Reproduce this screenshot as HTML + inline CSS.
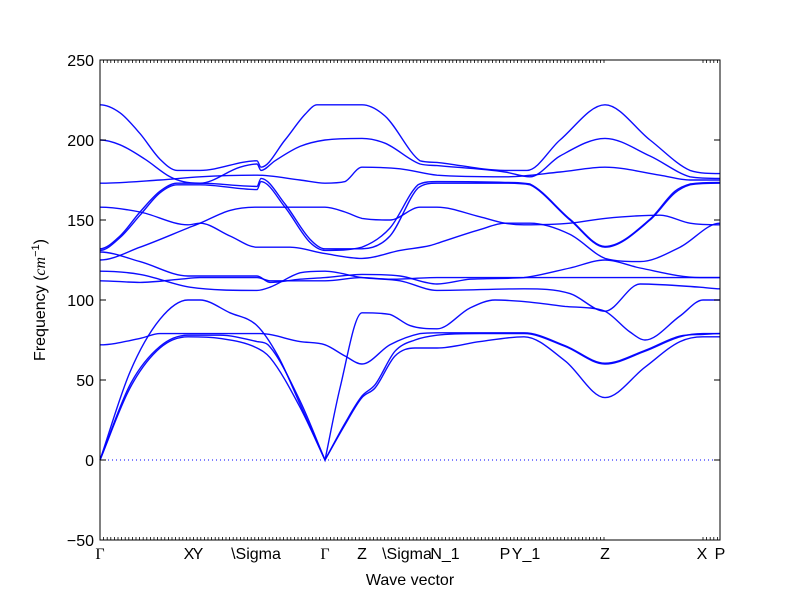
<!DOCTYPE html>
<html><head><meta charset="utf-8"><style>
body{margin:0;background:#fff}
svg{display:block;font-family:"Liberation Sans",sans-serif}
</style></head><body>
<svg id="chart" width="800" height="600" viewBox="0 0 800 600">
<rect x="0" y="0" width="800" height="600" fill="#fff"/>
<g id="bands"></g>
<g id="axes"></g>
</svg>
<script>
const yTicks=[-50,0,50,100,150,200,250];
const kLabels=["Γ","X","Y","\\Sigma","Γ","Z","\\Sigma","N_1","P","Y_1","Z","X","P"];
const kLabelPos=[0,89,98,156,225,262,307,345,405,426,505,602,620];
const kMax=620;
const band1=[[0,0],[30,45],[60,70],[88,77],[120,76],[157,70],[170,64],[200,33],[225,0],[245,22],[262,39],[275,45],[295,65],[315,70],[337,70],[380,74],[424,77],[465,62],[505,39],[545,58],[580,74],[603,77],[620,77]];
const band2=[[0,0],[30,47],[60,71],[88,78],[120,78],[157,74],[168,72],[200,37],[225,0],[245,23],[262,40],[275,47],[295,68],[315,75],[337,78],[380,79],[424,79],[465,71],[505,60],[545,68],[580,77],[603,79],[620,79]];
const band3=[[0,0],[30,55],[60,88],[88,100],[100,100],[130,92],[157,84],[178,65],[200,35],[225,0],[240,45],[262,92],[290,91],[310,84],[337,82],[370,95],[395,100],[424,99],[465,96],[505,93],[530,80],[545,75],[580,90],[603,100],[620,100]];
const band4=[[0,72],[40,76],[60,79],[100,79],[160,79],[200,74],[225,72],[245,65],[262,60],[290,72],[320,79],[337,79.5],[424,79.5],[465,71.5],[505,60.5],[545,68.5],[580,77.5],[603,78.5],[620,79]];
const band5=[[0,112],[40,111],[80,113],[100,114],[157,114],[170,112],[225,112],[262,114],[290,113],[337,114],[424,114],[505,114],[560,114],[620,114]];
const band6=[[0,118],[40,116],[90,108],[157,106],[170,108],[200,117],[225,118],[262,114],[300,112],[337,106],[424,107],[470,104],[505,93],[540,110],[600,108],[620,107]];
const band7=[[0,130],[40,124],[88,115],[157,115],[170,111],[200,113],[225,114],[262,116],[300,115],[337,110],[370,113],[424,114],[470,120],[505,125],[540,120],[600,114],[620,114]];
const band8=[[0,125],[40,133],[88,145],[100,148],[130,156],[157,158],[225,158],[245,155],[262,151],[290,150],[320,158],[337,158],[380,152],[405,148],[424,147],[470,148],[505,151],[560,153],[590,148],[620,147]];
const band9=[[0,158],[40,155],[88,147],[100,148],[130,140],[157,133],[190,133],[225,129],[262,126],[300,131],[330,134],[340,136],[380,144],[405,148],[430,148],[470,141],[505,126],[540,124],[580,133],[620,148]];
const band10=[[0,132],[20,140],[40,155],[60,168],[77,173],[100,173],[157,171],[161,176],[185,160],[210,138],[225,132],[262,132],[290,140],[318,170],[337,173],[405,173],[430,172],[470,150],[505,133],[550,150],[575,167],[590,172],[620,173]];
const band11=[[0,131],[20,139],[40,153],[60,167],[77,172],[100,172],[157,169],[161,174],[185,158],[210,136],[225,131],[262,133],[290,145],[318,172],[337,174],[405,173.5],[430,172.5],[470,150.5],[505,133.5],[550,150.5],[575,168],[590,172.5],[620,173.5]];
const band12=[[0,173],[60,175],[100,177],[157,178],[200,175],[225,173],[245,174],[262,183],[300,182],[337,178],[405,177],[460,180],[505,183],[560,178],[590,175],[620,175]];
const band13=[[0,200],[20,197],[45,188],[70,177],[83,174],[100,173],[140,183],[157,185],[161,181],[175,187],[200,196],[225,200],[262,201],[285,198],[320,185],[337,184],[405,180],[430,177],[460,190],[505,201],[550,190],[590,177],[620,176]];
const band14=[[0,222],[20,217],[40,204],[60,188],[77,181],[100,181],[157,187],[161,183],[185,200],[205,216],[217,222],[262,222],[285,215],[320,187],[337,186],[405,181],[427,181],[460,200],[505,222],[550,200],[590,181],[620,179]];
const bands=[band1,band2,band3,band4,band5,band6,band7,band8,band9,band10,band11,band12,band13,band14];

const L=100,R=720,T=60,B=540,yMin=-50,yMax=250;
const sx=k=>L+k/kMax*(R-L);
const sy=f=>B-(f-yMin)/(yMax-yMin)*(B-T);
const NS="http://www.w3.org/2000/svg";
function mk(tag,attrs,parent){const e=document.createElementNS(NS,tag);for(const a in attrs)e.setAttribute(a,attrs[a]);parent.appendChild(e);return e;}

function smoothPath(pts){
  const n=pts.length,xs=pts.map(p=>sx(p[0])),ys=pts.map(p=>sy(p[1]));
  const d=[];for(let i=0;i<n-1;i++)d.push((ys[i+1]-ys[i])/(xs[i+1]-xs[i]));
  const mL=new Array(n),mR=new Array(n);
  for(let i=0;i<n;i++){
    const zero=pts[i][1]===0;
    if(i===0){mR[i]=zero?d[0]:0;mL[i]=mR[i];continue;}
    if(i===n-1){mL[i]=zero?d[n-2]:0;mR[i]=mL[i];continue;}
    if(zero){mL[i]=d[i-1];mR[i]=d[i];continue;}
    const m=(d[i-1]*d[i]<=0)?0:(d[i-1]+d[i])/2;mL[i]=m;mR[i]=m;
  }
  for(let i=0;i<n-1;i++){if(d[i]===0)continue;const a=mR[i]/d[i],b=mL[i+1]/d[i],s=a*a+b*b;if(s>9){const t=3/Math.sqrt(s);mR[i]=t*a*d[i];mL[i+1]=t*b*d[i];}}
  let s="M"+xs[0].toFixed(2)+","+ys[0].toFixed(2);
  for(let i=0;i<n-1;i++){const h=(xs[i+1]-xs[i])/3;
    s+=" C"+(xs[i]+h).toFixed(2)+","+(ys[i]+mR[i]*h).toFixed(2)+" "+(xs[i+1]-h).toFixed(2)+","+(ys[i+1]-mL[i+1]*h).toFixed(2)+" "+xs[i+1].toFixed(2)+","+ys[i+1].toFixed(2);}
  return s;
}
const gb=document.getElementById('bands');
const zl=mk('line',{x1:L,x2:R,y1:sy(0),y2:sy(0),stroke:'#0000ff','stroke-width':1,'stroke-dasharray':'1,3'},gb);


bands.forEach((b,i)=>{
  const p=mk('path',{d:smoothPath(b),fill:'none',stroke:'#0000ff','stroke-width':1.4,'stroke-opacity':0.95},gb);
  
  
});
const ga=document.getElementById('axes');
const fr=mk('rect',{x:L,y:T,width:R-L,height:B-T,fill:'none',stroke:'#000','stroke-width':1},ga);


yTicks.forEach(v=>{
  const y=sy(v);
  mk('line',{x1:L,x2:L+6,y1:y,y2:y,stroke:'#000'},ga);
  mk('line',{x1:R-6,x2:R,y1:y,y2:y,stroke:'#000'},ga);
  const t=mk('text',{x:L-6,y:y+6,'text-anchor':'end','font-size':16},ga);
  t.textContent=(v<0?'\u2212'+Math.abs(v):v);
  
  
});
for(let x=L;x<=605;x+=3.6){mk('line',{x1:x,x2:x,y1:B,y2:B-3,stroke:'#000','stroke-width':0.8},ga);mk('line',{x1:x,x2:x,y1:T,y2:T+3,stroke:'#000','stroke-width':0.8},ga);}
for(let x=703;x<=720;x+=3.6){mk('line',{x1:x,x2:x,y1:B,y2:B-3,stroke:'#000','stroke-width':0.8},ga);mk('line',{x1:x,x2:x,y1:T,y2:T+3,stroke:'#000','stroke-width':0.8},ga);}
kLabels.forEach((lab,i)=>{
  const x=sx(kLabelPos[i]);
  const t=mk('text',{x:x,y:559,'text-anchor':'middle','font-size':16},ga);
  if(lab==="Γ")t.setAttribute('font-family','"Liberation Serif",serif');
  t.textContent=lab;
  
  
});
const xt=mk('text',{x:410,y:585,'text-anchor':'middle','font-size':16},ga);
xt.textContent='Wave vector';


const yt=mk('text',{x:0,y:0,'text-anchor':'middle','font-size':16,transform:'translate(45,300) rotate(-90)'},ga);
yt.innerHTML='Frequency (<tspan font-style="italic" font-family="Liberation Serif,serif">cm</tspan><tspan dy="-6" font-size="11">\u22121</tspan><tspan dy="6">)</tspan>';


</script>
</body></html>
